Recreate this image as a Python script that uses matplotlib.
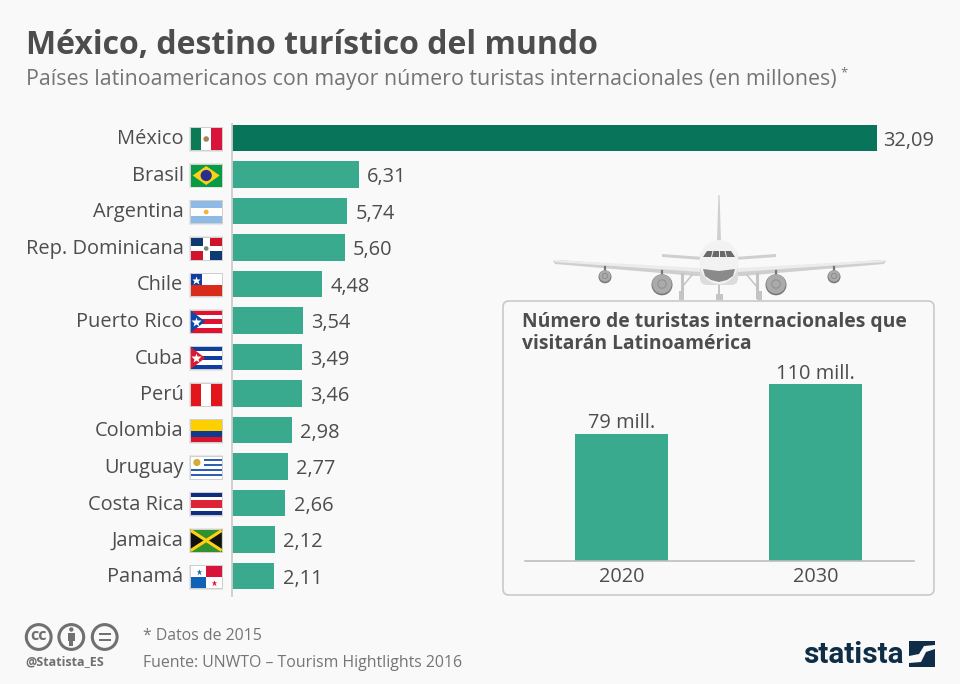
import matplotlib
matplotlib.use("Agg")
import matplotlib.pyplot as plt
from matplotlib.patches import Rectangle, Polygon, Circle, Ellipse, FancyBboxPatch

plt.rcParams["font.family"] = ["Open Sans", "DejaVu Sans"]

#%% data
countries = ["México", "Brasil", "Argentina", "Rep. Dominicana", "Chile", "Puerto Rico", "Cuba",
             "Perú", "Colombia", "Uruguay", "Costa Rica", "Jamaica", "Panamá"]
tourists = [32.09, 6.31, 5.74, 5.60, 4.48, 3.54, 3.49, 3.46, 2.98, 2.77, 2.66, 2.12, 2.11]
years = ["2020", "2030"]
forecast = [79, 110]
forecast_labels = ["79 mill.", "110 mill."]

title = "México, destino turístico del mundo"
subtitle = "Países latinoamericanos con mayor número turistas internacionales (en millones)"
inset_title = "Número de turistas internacionales que\nvisitarán Latinoamérica"

BG = "#f9f9f9"
GREEN = "#3aaa8f"
DARK_GREEN = "#08755a"
TEXT = "#4d4d4d"
GREY = "#757575"
W, H = 960, 684

fig = plt.figure(figsize=(9.6, 6.84), dpi=100, facecolor=BG)

def px_axes(x0, y0, x1, y1):
    # axes placed by pixel box, y counted from the top
    return fig.add_axes([x0 / W, 1 - y1 / H, (x1 - x0) / W, (y1 - y0) / H])

# overlay in pixel coords for flags, plane, logo
ov = fig.add_axes([0, 0, 1, 1], zorder=0)
ov.set_xlim(0, W)
ov.set_ylim(H, 0)
ov.axis("off")

#%% main bars
ax = px_axes(232, 120, 900, 595)
ax.patch.set_alpha(0)
colors = [DARK_GREEN] + [GREEN] * (len(countries) - 1)
ypos = list(range(len(countries)))
ax.barh(ypos, tourists, height=0.72, color=colors)
ax.set_xlim(0, 668 / 20.1)
ax.set_ylim(12.52, -0.493)
ax.axis("off")
for i, v in enumerate(tourists):
    # long bar label sits a bit closer in the original
    pad = 4.2 if i == 0 else 6
    ax.annotate(f"{v:.2f}".replace(".", ","), (v, i), xytext=(pad, -2), textcoords="offset points",
                va="center", ha="left", fontsize=14.4, color=TEXT)
ov.plot([232, 232], [124, 596], color="#cccccc", lw=1.3)

#%% flags
FX0, FW, FH = 190.7, 31, 22

def rect(x, y, w, h, c, z=3):
    ov.add_patch(Rectangle((x, y), w, h, fc=c, ec="none", zorder=z))

def hstripes(yc, cols, fracs=None):
    n = len(cols)
    fracs = fracs or [1 / n] * n
    y = yc - FH / 2
    for c, f in zip(cols, fracs):
        rect(FX0, y, FW, FH * f + 0.2, c)
        y += FH * f

def vstripes(yc, cols):
    for k, c in enumerate(cols):
        rect(FX0 + k * FW / len(cols), yc - FH / 2, FW / len(cols) + 0.2, FH, c)

def star(x, y, r, c, z=5):
    ov.plot([x], [y], marker="*", ms=r * 0.9, mfc=c, mec="none", zorder=z)

def tri(yc, c, depth=14.5):
    ov.add_patch(Polygon([(FX0, yc - FH / 2), (FX0 + depth, yc), (FX0, yc + FH / 2)],
                         fc=c, ec="none", zorder=4))

def flag(name, yc):
    # soft shadow behind the flag
    rect(FX0 - 1.3, yc - FH / 2 - 1.2, FW + 2.8, FH + 3, "#e6e6e6", z=2)
    rect(FX0 - 0.6, yc - FH / 2 - 0.6, FW + 1.4, FH + 1.6, "#cfcfcf", z=2)
    xc = FX0 + FW / 2
    if name == "México":
        vstripes(yc, ["#0b7a55", "#ffffff", "#d8143a"])
        ov.add_patch(Circle((xc, yc), 2.8, fc="#a5835a", ec="none", zorder=4))
    elif name == "Brasil":
        rect(FX0, yc - FH / 2, FW, FH, "#089b45")
        ov.add_patch(Polygon([(FX0 + 2, yc), (xc, yc - 9.5), (FX0 + FW - 2, yc), (xc, yc + 9.5)],
                             fc="#fcd116", ec="none", zorder=4))
        ov.add_patch(Circle((xc, yc), 5.6, fc="#2b2f8c", ec="none", zorder=5))
    elif name == "Argentina":
        hstripes(yc, ["#8dbbe6", "#ffffff", "#8dbbe6"])
        ov.add_patch(Circle((xc, yc), 2.4, fc="#f5b342", ec="none", zorder=4))
    elif name == "Rep. Dominicana":
        rect(FX0, yc - FH / 2, FW, FH, "#ffffff")
        b, r = "#0e3a73", "#d0142c"
        rect(FX0, yc - FH / 2, 12.2, 8.3, b)
        rect(FX0 + 18.8, yc - FH / 2, 12.2, 8.3, r)
        rect(FX0, yc + 2.7, 12.2, 8.3, r)
        rect(FX0 + 18.8, yc + 2.7, 12.2, 8.3, b)
        ov.add_patch(Circle((xc, yc), 2.3, fc="#6f8a7c", ec="none", zorder=4))
    elif name == "Chile":
        hstripes(yc, ["#ffffff", "#d92b1c"])
        rect(FX0, yc - FH / 2, 11, 11, "#0f3f9e", z=4)
        star(FX0 + 5.5, yc - 5.5, 7, "#ffffff")
    elif name == "Puerto Rico":
        hstripes(yc, ["#e0122f", "#ffffff"] * 2 + ["#e0122f"])
        tri(yc, "#0f47a8")
        star(FX0 + 5.5, yc, 8, "#ffffff")
    elif name == "Cuba":
        hstripes(yc, ["#0f3f9e", "#ffffff"] * 2 + ["#0f3f9e"])
        tri(yc, "#da1a30")
        star(FX0 + 5.5, yc, 8, "#ffffff")
    elif name == "Perú":
        vstripes(yc, ["#e2141c", "#ffffff", "#e2141c"])
    elif name == "Colombia":
        hstripes(yc, ["#fccf00", "#0f3a8e", "#d8142c"], [0.5, 0.25, 0.25])
    elif name == "Uruguay":
        hstripes(yc, ["#ffffff", "#2f5fb5"] * 4 + ["#ffffff"])
        rect(FX0, yc - FH / 2, 13, 12.2, "#ffffff", z=4)
        ov.add_patch(Circle((FX0 + 6.2, yc - 5), 3.6, fc="#d4ab3c", ec="none", zorder=5))
    elif name == "Costa Rica":
        hstripes(yc, ["#0f2e80", "#ffffff", "#dd2436", "#ffffff", "#0f2e80"],
                 [1 / 6, 1 / 6, 1 / 3, 1 / 6, 1 / 6])
    elif name == "Jamaica":
        rect(FX0, yc - FH / 2, FW, FH, "#32912c")
        ov.add_patch(Polygon([(FX0, yc - FH / 2), (xc, yc), (FX0, yc + FH / 2)], fc="#111111", ec="none", zorder=4))
        ov.add_patch(Polygon([(FX0 + FW, yc - FH / 2), (xc, yc), (FX0 + FW, yc + FH / 2)], fc="#111111", ec="none", zorder=4))
        ov.plot([FX0, FX0 + FW], [yc - FH / 2 + 1, yc + FH / 2 - 1], color="#fcd116", lw=2.2, zorder=5, solid_capstyle="butt")
        ov.plot([FX0, FX0 + FW], [yc + FH / 2 - 1, yc - FH / 2 + 1], color="#fcd116", lw=2.2, zorder=5, solid_capstyle="butt")
    elif name == "Panamá":
        rect(FX0, yc - FH / 2, FW, FH, "#ffffff")
        rect(xc, yc - FH / 2, FW / 2, FH / 2, "#d8143a")
        rect(FX0, yc, FW / 2, FH / 2, "#0f62b8")
        star(FX0 + 8, yc - 5.5, 5, "#0f62b8")
        star(FX0 + 23, yc + 5.5, 5, "#d8143a")

for i, name in enumerate(countries):
    yc = 139 + 36.5 * i
    ov.text(183.5, yc + 0.5, name, ha="right", va="center", fontsize=14.4, color=TEXT)
    flag(name, yc)

#%% plane, front view
PL = "#e4e4e4"
PM = "#cfcfcf"
PD = "#8a8a8a"
ov.add_patch(Polygon([(718.4, 195), (719.6, 195), (721, 241), (717, 241)], fc=PM, ec="none", zorder=3))
ov.add_patch(Polygon([(662, 254), (703, 257), (703, 260), (662, 257)], fc=PM, ec="none", zorder=3))
ov.add_patch(Polygon([(776, 254), (735, 257), (735, 260), (776, 257)], fc=PM, ec="none", zorder=3))
ov.add_patch(Polygon([(553, 261), (557, 260), (700, 270), (700, 276), (696, 276), (555, 264)], fc=PM, ec="none", zorder=3))
ov.add_patch(Polygon([(886, 261), (882, 260), (738, 270), (738, 276), (742, 276), (884, 264)], fc=PM, ec="none", zorder=3))
ov.add_patch(Polygon([(555, 260), (700, 268), (700, 272), (555, 262)], fc="#ececec", ec="none", zorder=3))
ov.add_patch(Polygon([(884, 260), (738, 268), (738, 272), (884, 262)], fc="#ececec", ec="none", zorder=3))
for x, y, r in [(605, 276, 6.5), (834, 276, 6.5), (662, 284, 10.5), (776, 284, 10.5)]:
    ov.plot([x, x], [y - r - 3, y], color="#777777", lw=1.6, zorder=3)
    ov.add_patch(Circle((x, y + 0.8), r, fc="#777777", ec="none", zorder=3))
    ov.add_patch(Circle((x, y), r - 0.8, fc="#aaaaaa", ec="none", zorder=4))
    ov.add_patch(Circle((x, y), r * 0.4, fc="#aaaaaa", ec="#8a8a8a", lw=0.6, zorder=5))
for x, dx in [(682, 10), (757, -10)]:
    ov.plot([x, x], [274, 297], color="#c4c4c4", lw=2.2, zorder=3)
    ov.plot([x, x + dx], [287, 275], color="#c4c4c4", lw=1.1, zorder=3)
    rect(x - 3.5 if dx > 0 else x, 291, 5, 9, "#c4c4c4", z=3)
ov.plot([719, 719], [285, 297], color="#c4c4c4", lw=1.4, zorder=3)
rect(715.5, 294, 7, 6, "#c4c4c4", z=3)
ov.add_patch(FancyBboxPatch((700, 250), 38, 35, boxstyle="round,pad=0,rounding_size=7", fc="#dcdcdc", ec="none", zorder=5))
ov.add_patch(Ellipse((719, 262), 39, 44, fc="#f2f2f2", ec="none", zorder=6))
ov.add_patch(Polygon([(703, 257), (707, 251), (731, 251), (735, 257)], fc="#6a6a6a", ec="none", zorder=7))
for x, x2 in [(713, 711.5), (719, 719), (725, 726.5)]:
    ov.plot([x, x2], [251, 257], color="#f2f2f2", lw=0.7, zorder=8)
ov.add_patch(Polygon([(703, 269), (719, 271), (735, 269), (733, 276), (727, 280), (719, 282), (711, 280), (705, 276)],
                     fc=PD, ec="none", zorder=7))

#%% inset panel
ov.add_patch(FancyBboxPatch((503, 301), 431, 294, boxstyle="round,pad=0,rounding_size=6",
                            fc=BG, ec="#c9c9c9", lw=1.2, zorder=8))
ins = px_axes(525, 361, 914, 561)
ins.patch.set_alpha(0)
ins.set_zorder(2)
ins.bar(range(len(years)), forecast, width=0.48, color=GREEN)
ins.set_xlim(-0.497, 1.508)
ins.set_ylim(0, 200 / 1.607)
for s in ["top", "left", "right"]:
    ins.spines[s].set_visible(False)
ins.spines["bottom"].set_color("#bdbdbd")
ins.spines["bottom"].set_linewidth(1.2)
ins.set_yticks([])
ins.set_xticks(range(len(years)), years)
ins.tick_params(axis="x", length=0, pad=4.5, labelsize=14.3, labelcolor=TEXT)
for i, lab in enumerate(forecast_labels):
    ins.annotate(lab, (i, forecast[i]), xytext=(0, 0.5), textcoords="offset points",
                 ha="center", va="bottom", fontsize=14.4, color=TEXT)

#%% titles and footer, on top of everything
ov.set_zorder(1)
fig.text(25.5 / W, 1 - 45 / H, title, fontsize=23.05, fontweight="bold", color=TEXT, va="center")
fig.text(25.5 / W, 1 - 79 / H, subtitle, fontsize=15.4, color=GREY, va="center")
fig.text(840 / W, 1 - 73 / H, "*", fontsize=9.5, color=GREY, va="center")
fig.text(521.5 / W, 1 - 333 / H, inset_title, fontsize=13.83, fontweight="bold", color=TEXT,
         va="center", linespacing=1.17, zorder=10)
fig.text(143 / W, 1 - 636.5 / H, "* Datos de 2015", fontsize=11.4, color=GREY, va="center")
fig.text(143 / W, 1 - 663 / H, "Fuente: UNWTO – Tourism Hightlights 2016", fontsize=11.4, color=GREY, va="center")
fig.text(25.5 / W, 1 - 662 / H, "@Statista_ES", fontsize=9, fontweight="bold", color="#6f6f6f", va="center")

# cc icons
ICON = "#707070"
for x in [38.7, 71.3, 104.7]:
    ov.add_patch(Circle((x, 637), 12.4, fc="none", ec=ICON, lw=2.2, zorder=9))
ov.text(38.7, 636.5, "cc", fontsize=11.5, fontweight="bold", color=ICON, ha="center", va="center", zorder=9)
ov.add_patch(Circle((71.3, 629.5), 2.2, fc=ICON, ec="none", zorder=9))
ov.add_patch(Rectangle((67.8, 632.5), 7, 8, fc=ICON, ec="none", zorder=9))
ov.add_patch(Rectangle((69.3, 640), 4, 6, fc=ICON, ec="none", zorder=9))
ov.add_patch(Rectangle((98.7, 632.5), 12, 2.6, fc=ICON, ec="none", zorder=9))
ov.add_patch(Rectangle((98.7, 638.5), 12, 2.6, fc=ICON, ec="none", zorder=9))

# statista logo
NAVY = "#0f2d46"
fig.text(803.5 / W, 1 - 655 / H, "statista", fontsize=21.4, fontweight="bold", family="Roboto", color=NAVY, va="center")
ov.add_patch(Polygon([(909, 641), (935, 641), (935, 645), (924, 646), (919, 654), (909, 656)], fc=NAVY, ec="none", zorder=9))
ov.add_patch(Polygon([(935, 649), (935, 667), (909, 667), (909, 663), (921, 662), (926, 652)], fc=NAVY, ec="none", zorder=9))

fig.savefig("out.png", dpi=100, facecolor=BG)
